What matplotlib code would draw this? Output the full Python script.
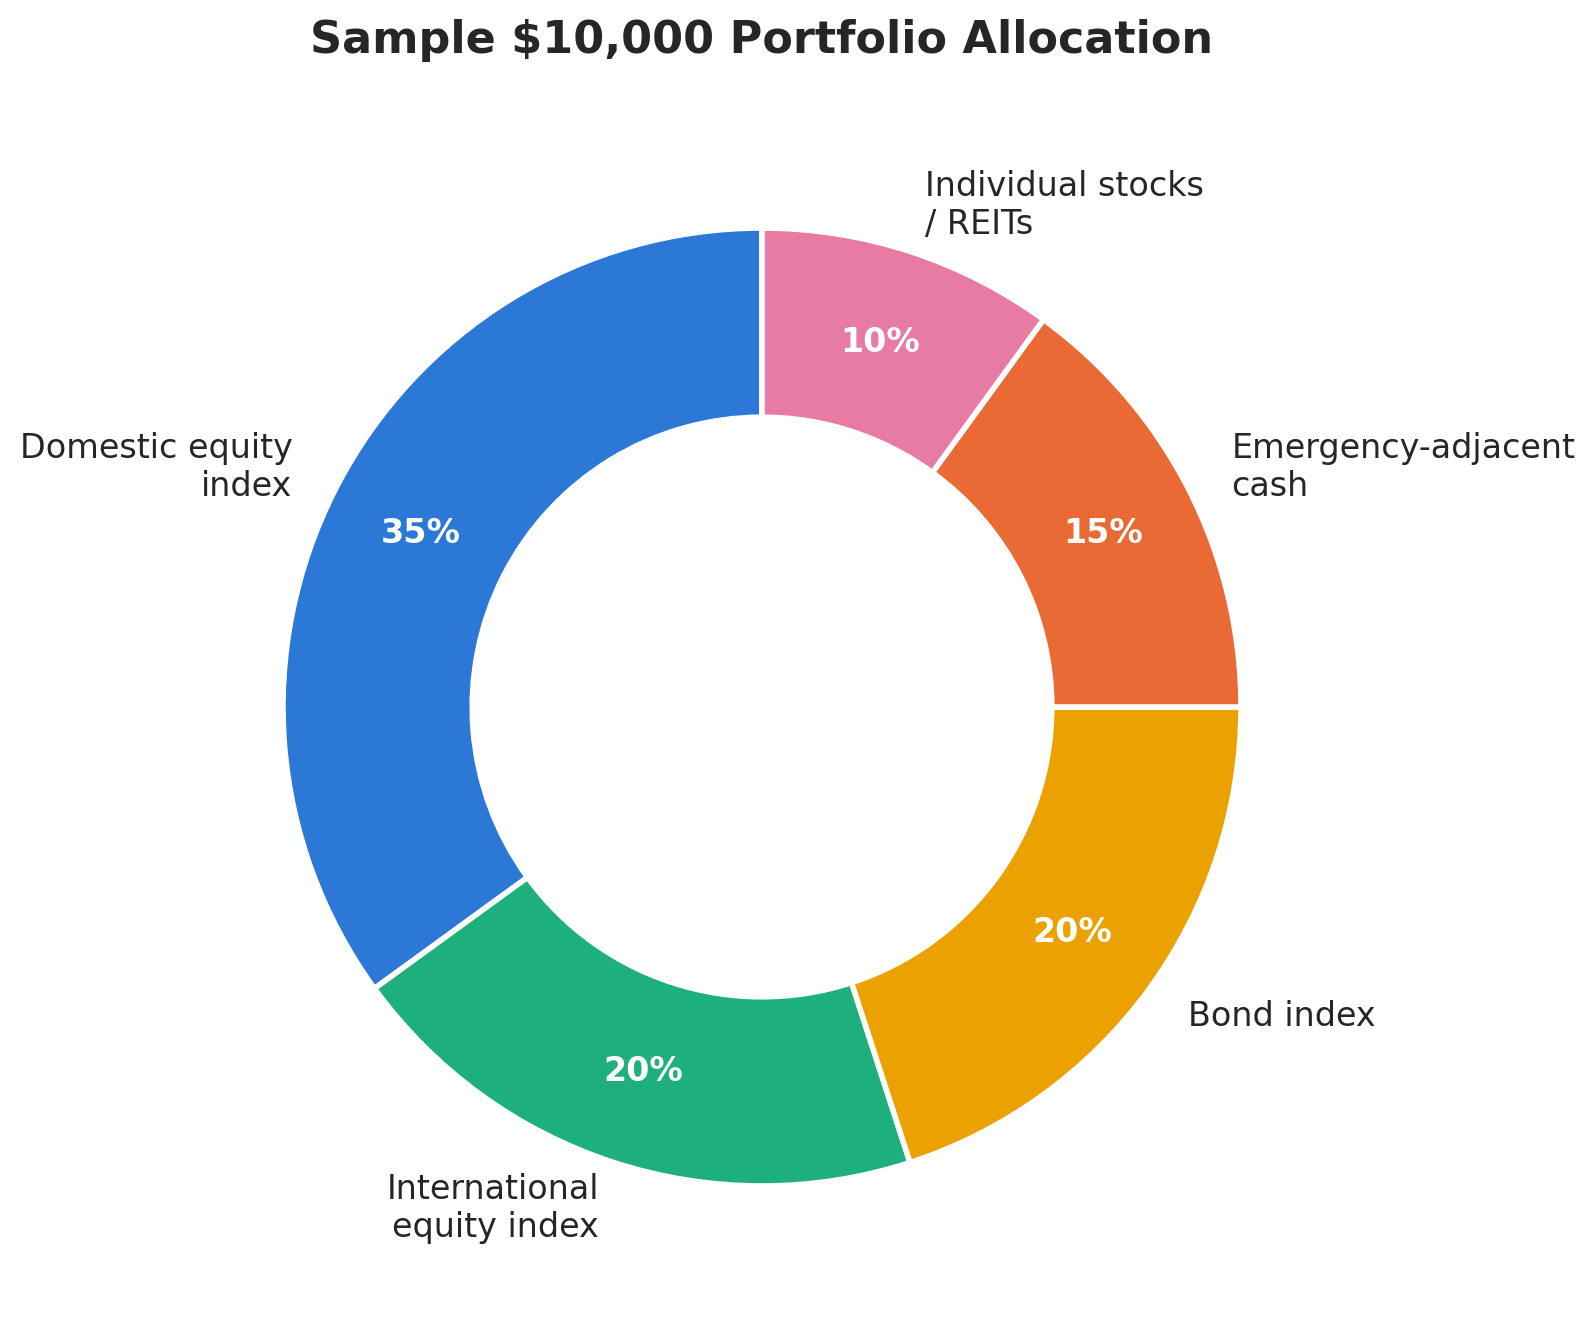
import matplotlib
matplotlib.use("Agg")
import matplotlib.pyplot as plt

labels = ["Domestic equity\nindex", "International\nequity index", "Bond index",
          "Emergency-adjacent\ncash", "Individual stocks\n/ REITs"]
shares = [35, 20, 20, 15, 10]
colors = ["#2b78d6", "#1db07c", "#eba200", "#e96a35", "#e77ba3"]

W, H, DPI = 1595, 1326, 200
fig = plt.figure(figsize=(W / DPI, H / DPI), dpi=DPI)

# donut centre and radius in pixels
cx, cy, R = 762, 707, 479
Lx, Ly = 1.5, 1.35
ax = fig.add_axes([(cx - Lx * R) / W, (H - cy - Ly * R) / H,
                   2 * Lx * R / W, 2 * Ly * R / H])

wedges, texts, autotexts = ax.pie(
    shares, labels=labels, colors=colors, startangle=90, counterclock=True,
    autopct="%1.0f%%", pctdistance=0.80, labeldistance=1.1,
    wedgeprops=dict(width=0.395, edgecolor="white", linewidth=2),
    textprops=dict(fontsize=12, color="#262626"))
for t in autotexts:
    t.set_color("white")
    t.set_fontweight("bold")
    t.set_fontsize(12)
ax.set_xlim(-Lx, Lx)
ax.set_ylim(-Ly, Ly)

fig.text(cx / W, 1 - 40 / H, "Sample $10,000 Portfolio Allocation",
         fontsize=16, fontweight="bold", color="#262626",
         ha="center", va="center")

fig.savefig("out.png", dpi=DPI)
